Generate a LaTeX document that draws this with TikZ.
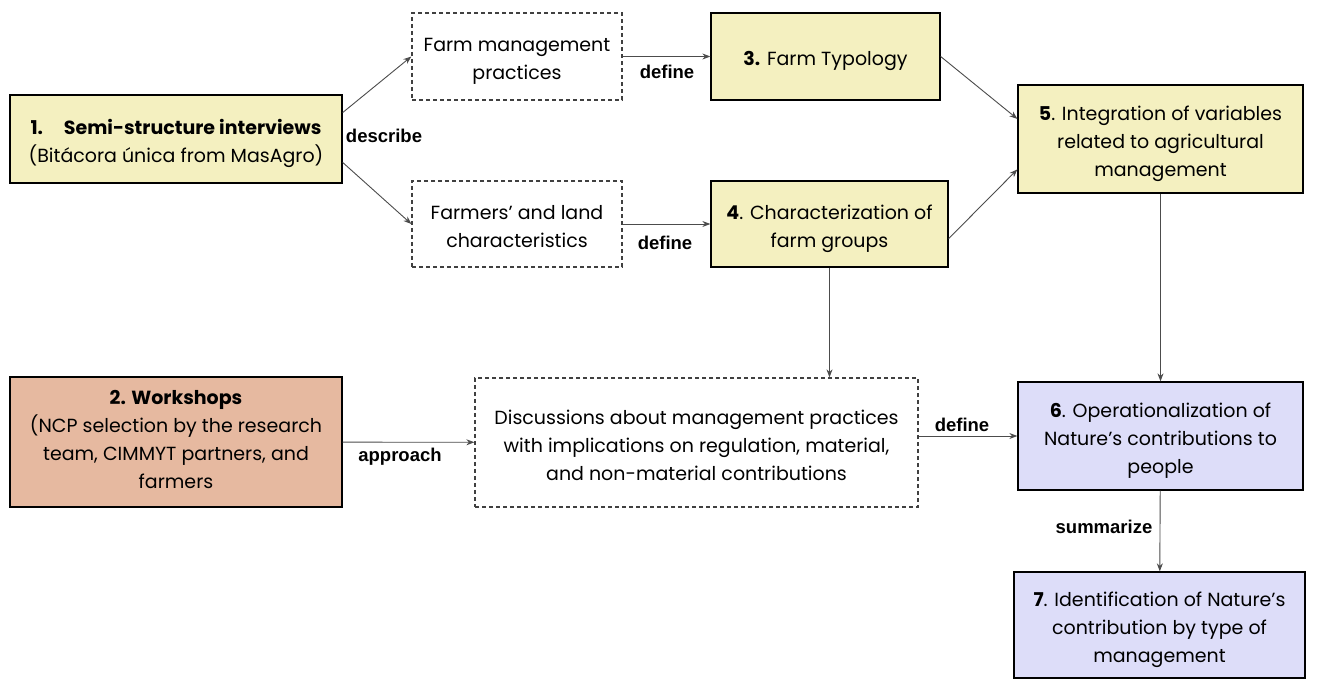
\documentclass[tikz,border=0pt]{standalone}
\usepackage{fontspec}
\setmainfont{Poppins}
\newfontfamily\lblfont{Liberation Sans}
\usetikzlibrary{arrows.meta}
\definecolor{boxyellow}{RGB}{244,240,192}
\definecolor{boxsalmon}{RGB}{230,185,160}
\definecolor{boxlilac}{RGB}{221,221,249}
\newcommand{\st}{\rule{0pt}{25pt}}
\newcommand{\bst}{\rule[-6pt]{0pt}{6pt}}
\newcommand{\lowst}{\rule{0pt}{15pt}}
\newcommand{\lowbst}{\rule[-7pt]{0pt}{7pt}}
\tikzset{%
    box/.style={draw=black,line width=1.3pt,align=center,inner sep=0pt,font=\fontsize{19}{28}\selectfont},
    dbox/.style={box,draw=black!75,dash pattern=on 4pt off 3pt},
    lbl/.style={font=\lblfont\bfseries\fontsize{18.5}{20}\selectfont},
    arr/.style={draw=black!70,line width=0.9pt,-{Stealth[length=8pt,width=6pt]}}
}
\begin{document}
\begin{tikzpicture}[x=1pt,y=-1pt]
        \useasboundingbox[fill=white] (0,0) rectangle (1325,684);
        \node[box,fill=boxyellow,minimum width=332pt,minimum height=88pt] (s1) at (176,139)
            {\st\textbf{1.\hspace{1.1em}Semi-structure interviews}\\(Bitácora única from MasAgro)\bst};
        \node[dbox,minimum width=210pt,minimum height=87pt] (fm) at (517,56.5)
            {\st Farm management\\practices\bst};
        \node[dbox,minimum width=210pt,minimum height=86pt] (fl) at (517,224)
            {\st Farmers’ and land\\characteristics\bst};
        \node[box,fill=boxyellow,minimum width=229pt,minimum height=87pt] (t3) at (825.5,56.5)
            {\st\textbf{3.} Farm Typology\bst};
        \node[box,fill=boxyellow,minimum width=237pt,minimum height=86pt] (c4) at (829.5,224)
            {\st\textbf{4}. Characterization of\\farm groups\bst};
        \node[box,fill=boxyellow,minimum width=285pt,minimum height=108pt] (i5) at (1160.5,139)
            {\st\textbf{5}. Integration of variables\\related to agricultural\\management\bst};
        \node[box,fill=boxsalmon,minimum width=332pt,minimum height=130pt] (w2) at (176,442)
            {\lowst\textbf{2. Workshops}\\(NCP selection by the research\\team, CIMMYT partners, and\\farmers\lowbst};
        \node[dbox,minimum width=443pt,minimum height=129pt] (disc) at (696.5,442.5)
            {\st Discussions about management practices\\with implications on regulation, material,\\and non-material contributions\bst};
        \node[box,fill=boxlilac,minimum width=285pt,minimum height=108pt] (o6) at (1160.5,436)
            {\st\textbf{6}. Operationalization of\\Nature’s contributions to\\people\bst};
        \node[box,fill=boxlilac,minimum width=291pt,minimum height=106pt] (id7) at (1159.5,625)
            {\st\textbf{7}. Identification of Nature’s\\contribution by type of\\management\bst};
        \path[every edge/.style={arr}]
            (s1.9) edge (fm.west)
            (s1.-8) edge (fl.west)
            (fm) edge (t3)
            (fl) edge (c4)
            (t3.east) edge (i5.172)
            (c4.-7) edge (i5.192)
            (i5.south -| o6.north) edge (o6.north)
            (c4.south) edge (c4.south |- disc.north)
            (w2) edge (disc)
            (disc.east |- o6.west) edge (o6.west)
            (o6) edge (id7);
        \node[lbl] (l1) at (384,136) {describe};
        \node[lbl] (l2) at (667,72) {define};
        \node[lbl] (l3) at (665,243) {define};
        \node[lbl] (l4) at (400,457) {approach};
        \node[lbl] (l5) at (962,425) {define};
        \node[lbl] (l6) at (1104,527) {summarize};
    \end{tikzpicture}
\end{document}
